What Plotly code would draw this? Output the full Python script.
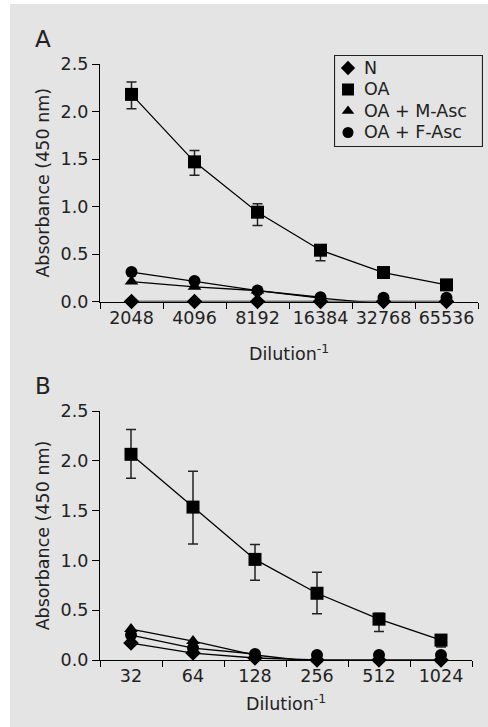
import plotly.graph_objects as go

# ---------------- data ----------------
series_names = ["N", "OA", "OA + M-Asc", "OA + F-Asc"]

cats_A = ["2048", "4096", "8192", "16384", "32768", "65536"]
N_A = [0.0, 0.0, 0.0, 0.0, 0.0, 0.0]
OA_A = [2.18, 1.47, 0.94, 0.54, 0.305, 0.175]
OA_A_err_up = [0.13, 0.12, 0.09, 0.04, 0.0, 0.0]
OA_A_err_dn = [0.15, 0.14, 0.14, 0.11, 0.0, 0.0]
MAsc_A = [0.21, 0.155, 0.115, 0.035, -0.025, -0.025]
FAsc_A = [0.31, 0.215, 0.115, 0.045, 0.04, 0.04]
FAsc_A_line_n = 4          # circle line drawn through first n points
stars_A = [0.48, 0.375, 0.25, 0.175]  # heights of "*" marks (first 4 dilutions)

cats_B = ["32", "64", "128", "256", "512", "1024"]
N_B = [0.17, 0.07, 0.02, 0.0, 0.0, 0.0]
OA_B = [2.065, 1.535, 1.01, 0.67, 0.41, 0.20]
OA_B_err_up = [0.25, 0.36, 0.15, 0.21, 0.06, 0.03]
OA_B_err_dn = [0.24, 0.37, 0.21, 0.205, 0.125, 0.07]
MAsc_B = [0.31, 0.19, 0.05, -0.02, -0.02, -0.02]
FAsc_B = [0.25, 0.12, 0.06, 0.05, 0.05, 0.05]
FAsc_B_line_n = 3
stars_B = [0.51, 0.375, 0.26, 0.23]

# ---------------- style ----------------
FONT = "DejaVu Sans"
FS = 17.5
TXT = "#222222"
BG = "#e4e4e4"
W, H = 488, 727
ML, MR, MT, MB = 100, 4, 54, 67
PW, PH = W - ML - MR, H - MT - MB


def py(pix):  # pixel row -> paper fraction
    return min(1.0, max(0.0, (H - MB - pix) / PH))


def px(pix):
    return min(1.0, max(0.0, (pix - ML) / PW))


def pyr(pix):  # unclamped
    return (H - MB - pix) / PH


def pxr(pix):
    return (pix - ML) / PW


symbols = {"N": "diamond", "OA": "square", "OA + M-Asc": "triangle-up", "OA + F-Asc": "circle"}
sizes = {"N": 12, "OA": 13, "OA + M-Asc": 12, "OA + F-Asc": 12}

fig = go.Figure()


def add_panel(cats, N, OA, up, dn, M, F, f_n, xa, ya):
    data = {"N": N, "OA": OA, "OA + M-Asc": M, "OA + F-Asc": F}
    for name in series_names:
        vals = data[name]
        if name == "OA + F-Asc":
            line_y = [v if i < f_n else None for i, v in enumerate(vals)]
        else:
            line_y = vals
        fig.add_trace(go.Scatter(
            x=cats, y=line_y, mode="lines", line=dict(color="black", width=1.3),
            xaxis=xa, yaxis=ya, showlegend=False, hoverinfo="skip", connectgaps=False))
    for name in series_names:
        vals = data[name]
        kw = {}
        if name == "OA":
            kw["error_y"] = dict(type="data", symmetric=False, array=up, arrayminus=dn,
                                 color="#222222", thickness=1.5, width=5)
        fig.add_trace(go.Scatter(
            x=cats, y=vals, mode="markers", name=name,
            marker=dict(symbol=symbols[name], size=sizes[name], color="black"),
            xaxis=xa, yaxis=ya, showlegend=False, cliponaxis=False, **kw))


add_panel(cats_A, N_A, OA_A, OA_A_err_up, OA_A_err_dn, MAsc_A, FAsc_A, FAsc_A_line_n, "x", "y")
add_panel(cats_B, N_B, OA_B, OA_B_err_up, OA_B_err_dn, MAsc_B, FAsc_B, FAsc_B_line_n, "x2", "y2")

annotations = []
for cats, stars, xr, yr in [(cats_A, stars_A, "x", "y"), (cats_B, stars_B, "x2", "y2")]:
    for c, s in zip(cats, stars):
        annotations.append(dict(x=c, y=s, xref=xr, yref=yr, text="*", showarrow=False,
                                font=dict(family=FONT, size=FS, color=TXT), yshift=-4))

annotations.append(dict(x=pxr(33), y=pyr(39), xref="paper", yref="paper", text="A", showarrow=False,
                        xanchor="left", yanchor="middle", font=dict(family=FONT, size=23, color=TXT)))
annotations.append(dict(x=pxr(33), y=pyr(386), xref="paper", yref="paper", text="B", showarrow=False,
                        xanchor="left", yanchor="middle", font=dict(family=FONT, size=23, color=TXT)))

# ---- legend box (drawn on an overlay axis measured in pixels) ----
LEG_X0, LEG_X1, LEG_Y0, LEG_Y1 = 334, 483, 55, 147
leg_rows = [68, 89.5, 111, 132.5]
for name, ry in zip(series_names, leg_rows):
    fig.add_trace(go.Scatter(
        x=[348], y=[ry], mode="markers", name=name,
        marker=dict(symbol=symbols[name], size=sizes[name] - 1, color="black"),
        xaxis="x3", yaxis="y3", showlegend=False, cliponaxis=False, hoverinfo="skip"))
    annotations.append(dict(x=362, y=ry, xref="x3", yref="y3", text=name, showarrow=False,
                            xanchor="left", yanchor="middle",
                            font=dict(family=FONT, size=FS, color=TXT)))

xcommon = dict(type="category", tickson="boundaries", ticks="outside", ticklen=6, tickwidth=1.2,
               tickcolor="black", showline=True, linecolor="black", linewidth=1.3, showgrid=False,
               zeroline=False, range=[-0.5, 5.5], tickangle=0, automargin=False,
               tickfont=dict(family=FONT, size=FS, color=TXT))
ycommon = dict(range=[0, 2.5], tickvals=[0, 0.5, 1, 1.5, 2, 2.5], tickformat=".1f",
               ticks="outside", ticklen=7, tickwidth=1.2, tickcolor="black", showline=True,
               linecolor="black", linewidth=1.3, showgrid=False, zeroline=False, automargin=False,
               tickfont=dict(family=FONT, size=FS, color=TXT),
               title=dict(text="Absorbance (450 nm)", font=dict(family=FONT, size=FS, color=TXT),
                          standoff=6))
xtitle = "Dilution<sup>-1</sup>"
hidden = dict(visible=False, showgrid=False, zeroline=False, fixedrange=True)

fig.update_layout(
    width=W, height=H,
    margin=dict(l=ML, r=MR, t=MT, b=MB, pad=0, autoexpand=False),
    paper_bgcolor="white", plot_bgcolor="rgba(0,0,0,0)",
    font=dict(family=FONT, size=FS, color=TXT),
    xaxis=dict(domain=[0, px(478)], anchor="y",
               title=dict(text=xtitle, font=dict(family=FONT, size=FS, color=TXT), standoff=21),
               **xcommon),
    yaxis=dict(domain=[py(301.5), py(64)], anchor="x", **ycommon),
    xaxis2=dict(domain=[0, px(472)], anchor="y2",
                title=dict(text=xtitle, font=dict(family=FONT, size=FS, color=TXT), standoff=12),
                **xcommon),
    yaxis2=dict(domain=[0, py(411)], anchor="x2", **ycommon),
    xaxis3=dict(domain=[px(LEG_X0), px(LEG_X1)], range=[LEG_X0, LEG_X1], anchor="y3", **hidden),
    yaxis3=dict(domain=[py(LEG_Y1), py(LEG_Y0)], range=[LEG_Y1, LEG_Y0], anchor="x3", **hidden),
    shapes=[
        dict(type="rect", xref="paper", yref="paper", x0=pxr(10), x1=pxr(495),
             y0=pyr(740), y1=pyr(4), fillcolor=BG, line=dict(width=0), layer="below"),
        dict(type="rect", xref="x3", yref="y3", x0=LEG_X0 + 0.5, x1=LEG_X1 - 0.5,
             y0=LEG_Y0 + 0.5, y1=LEG_Y1 - 0.5, line=dict(color="#222222", width=1.2),
             fillcolor="rgba(0,0,0,0)"),
    ],
    annotations=annotations,
    showlegend=False,
)

fig.write_html("out.html", config={"displayModeBar": False},
               post_script="document.body.style.margin='0';document.body.style.overflow='hidden';")
